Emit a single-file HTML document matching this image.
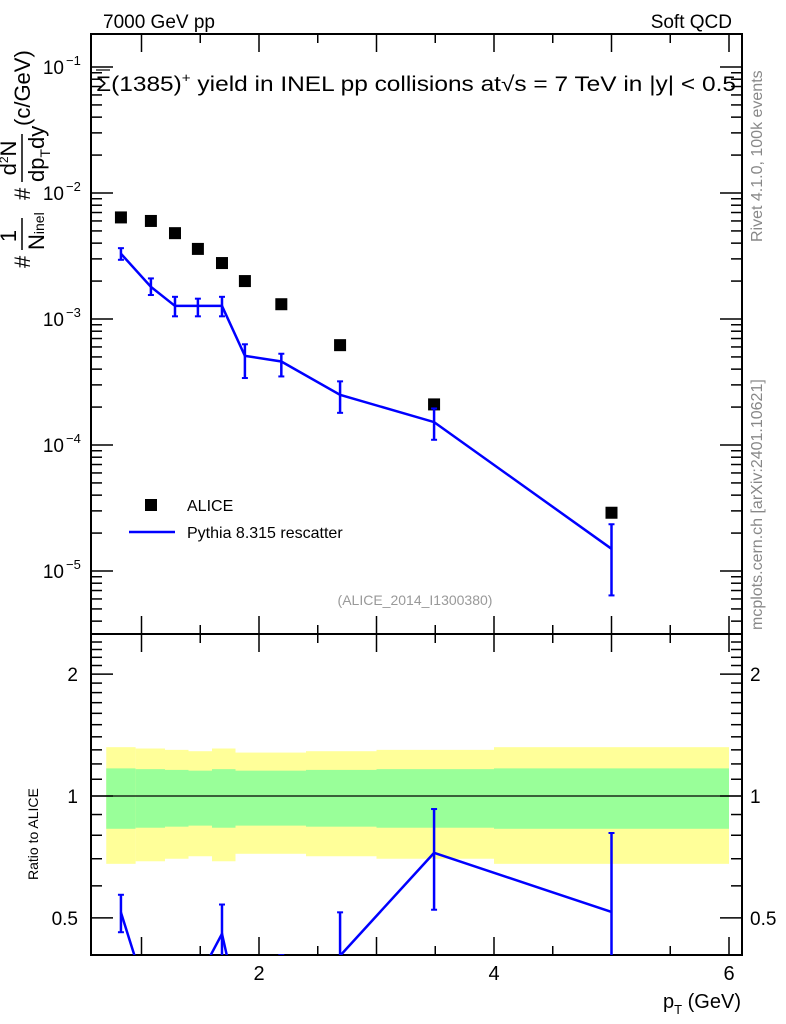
<!DOCTYPE html>
<html><head><meta charset="utf-8"><style>
html,body{margin:0;padding:0;background:#fff;overflow:hidden;width:786px;height:1024px;}
svg{display:block;font-family:"Liberation Sans",sans-serif;}
</style></head><body>
<svg id="c" width="786" height="1024" viewBox="0 0 786 1024">
<text x="103" y="28" font-size="19">7000 GeV pp</text>
<text x="732" y="28" font-size="19" text-anchor="end">Soft QCD</text>
<text transform="translate(762,242) rotate(-90)" font-size="16" fill="#888">Rivet 4.1.0,  100k events</text>
<text transform="translate(762,630) rotate(-90)" font-size="16" fill="#888">mcplots.cern.ch [arXiv:2401.10621]</text>
<g id="bands"></g>
<g id="main"></g>
<g id="ratio"></g>
<text x="96" y="91" font-size="21" textLength="640" lengthAdjust="spacingAndGlyphs">Σ(1385)<tspan font-size="13" dy="-9">+</tspan><tspan dy="9">  yield in INEL pp collisions at√s = 7 TeV in |y| &lt; 0.5</tspan></text>
<line x1="96" y1="70" x2="110" y2="70" stroke="#000" stroke-width="1.2"/>
<text x="415" y="605" font-size="14" fill="#999" text-anchor="middle">(ALICE_2014_I1300380)</text>
<rect x="145" y="499" width="12" height="12" fill="#000"/>
<text x="187" y="511" font-size="16">ALICE</text>
<line x1="129" y1="532" x2="175" y2="532" stroke="#00f" stroke-width="2.5"/>
<text x="187" y="538" font-size="16">Pythia 8.315 rescatter</text>
<g transform="translate(-24,268) rotate(-90)" font-size="22">
<text x="0" y="54">#</text>
<text x="32" y="40" text-anchor="middle">1</text>
<line x1="18" y1="46" x2="50" y2="46" stroke="#000" stroke-width="1.5"/>
<text x="18" y="68">N<tspan font-size="14">inel</tspan></text>
<text x="68" y="54">#</text>
<text x="110" y="40" text-anchor="middle">d<tspan font-size="12" dy="-8">2</tspan><tspan dy="8">N</tspan></text>
<line x1="86" y1="46" x2="134" y2="46" stroke="#000" stroke-width="1.5"/>
<text x="86" y="68">dp<tspan font-size="14" dy="6">T</tspan><tspan dy="-6">dy</tspan></text>
<text x="142" y="54">(c/GeV)</text>
</g>
<text transform="translate(38,880) rotate(-90)" font-size="14">Ratio to ALICE</text>
<text x="741" y="1008" font-size="20" text-anchor="end">p<tspan font-size="13" dy="6">T</tspan><tspan dy="-6"> (GeV)</tspan></text>
</svg>
<script>
const pt=[0.825,1.08,1.285,1.48,1.685,1.88,2.19,2.69,3.49,5.0];
const binLo=[0.7,0.95,1.2,1.4,1.6,1.8,2.0,2.4,3.0,4.0];
const binHi=[0.95,1.2,1.4,1.6,1.8,2.0,2.4,3.0,4.0,6.0];
const alice=[6.4e-3,6.0e-3,4.8e-3,3.6e-3,2.78e-3,2.0e-3,1.31e-3,6.2e-4,2.1e-4,2.9e-5];
const aliceStat=[0.17,0.165,0.16,0.155,0.165,0.155,0.155,0.16,0.165,0.17];
const aliceTot=[0.32,0.31,0.30,0.29,0.31,0.28,0.28,0.29,0.30,0.32];
const pythia=[3.3e-3,1.8e-3,1.27e-3,1.27e-3,1.27e-3,5.1e-4,4.6e-4,2.5e-4,1.52e-4,1.5e-5];
const pyLo=[2.95e-3,1.55e-3,1.05e-3,1.05e-3,1.05e-3,3.4e-4,3.5e-4,1.8e-4,1.1e-4,6.4e-6];
const pyHi=[3.65e-3,2.1e-3,1.5e-3,1.45e-3,1.5e-3,6.3e-4,5.3e-4,3.2e-4,1.95e-4,2.35e-5];
const mainYTicks=[-1,-2,-3,-4,-5];
const ratioYTicks=[2,1,0.5];
const xTicks=[2,4,6];
const NS='http://www.w3.org/2000/svg';
const L=91,R=742,T=34,MB=634,RB=955;
const X=v=>259+(v-2)*117.5;
const Y=v=>67+(-1-Math.log10(v))*126;
const YR=v=>796-Math.log10(v)*405;
function mk(p,t,a){const e=document.createElementNS(NS,t);for(const k in a)e.setAttribute(k,a[k]);p.appendChild(e);return e;}
const main=document.getElementById('main'),ratio=document.getElementById('ratio'),bands=document.getElementById('bands');
for(let i=0;i<pt.length;i++){
 const x1=X(binLo[i]),x2=X(binHi[i]);
 const y=mk(bands,'rect',{x:x1,y:YR(1+aliceTot[i]),width:x2-x1,height:YR(1-aliceTot[i])-YR(1+aliceTot[i]),fill:'#ffff99'});
 
 
 const g=mk(bands,'rect',{x:x1,y:YR(1+aliceStat[i]),width:x2-x1,height:YR(1-aliceStat[i])-YR(1+aliceStat[i]),fill:'#99ff99'});
 
 
}
for(const [t,b] of [[T,MB],[MB,RB]]){
 const f=mk(main,'rect',{x:L,y:t,width:R-L,height:b-t,fill:'none',stroke:'#000','stroke-width':2});
 
 
}
for(let v=1;v<=6;v+=0.5){const x=X(v);if(x<L||x>R)continue;const len=(v%1===0)?18:9;
 for(const [t,b] of [[T,MB],[MB,RB]]){mk(main,'line',{x1:x,y1:b,x2:x,y2:b-len,stroke:'#000','stroke-width':1.5});mk(main,'line',{x1:x,y1:t,x2:x,y2:t+len,stroke:'#000','stroke-width':1.5});}}
xTicks.forEach(v=>{const t=mk(main,'text',{x:X(v),y:980,'font-size':20,'text-anchor':'middle'});t.textContent=v;
 
 });
for(let d=-6;d<=-1;d++)for(let m=1;m<10;m++){const v=m*Math.pow(10,d);const y=Y(v);if(y<T||y>MB)continue;const len=m===1?22:11;
 mk(main,'line',{x1:L,y1:y,x2:L+len,y2:y,stroke:'#000','stroke-width':1.5});mk(main,'line',{x1:R,y1:y,x2:R-len,y2:y,stroke:'#000','stroke-width':1.5});}
mainYTicks.forEach(d=>{const t=mk(main,'text',{x:64,y:Y(Math.pow(10,d))+7,'font-size':19,'text-anchor':'end'});t.textContent='10';
 
 
 const s=mk(main,'text',{x:66,y:Y(Math.pow(10,d))-2,'font-size':13});s.textContent='−'+(-d);});
for(let v=0.4;v<=2.5;v+=0.1){const vv=Math.round(v*10)/10;const y=YR(vv);if(y<MB||y>RB)continue;const big=[0.5,1,2].includes(vv);const len=big?22:11;
 mk(ratio,'line',{x1:L,y1:y,x2:L+len,y2:y,stroke:'#000','stroke-width':1.5});mk(ratio,'line',{x1:R,y1:y,x2:R-len,y2:y,stroke:'#000','stroke-width':1.5});}
ratioYTicks.forEach(v=>{const a=mk(ratio,'text',{x:78,y:YR(v)+7,'font-size':19,'text-anchor':'end'});a.textContent=v;
 
 
 const b=mk(ratio,'text',{x:750,y:YR(v)+7,'font-size':19});b.textContent=v;
 
 });
mk(ratio,'line',{x1:L,y1:YR(1),x2:R,y2:YR(1),stroke:'#000','stroke-width':1.2});
alice.forEach((v,i)=>{const r=mk(main,'rect',{x:X(pt[i])-6,y:Y(v)-6,width:12,height:12,fill:'#000'});
 
 });
const pl=mk(main,'polyline',{points:pt.map((p,i)=>X(p)+','+Y(pythia[i])).join(' '),fill:'none',stroke:'#00f','stroke-width':2.5});


pythia.forEach((v,i)=>{const x=X(pt[i]);
 const e=mk(main,'line',{x1:x,y1:Y(pyLo[i]),x2:x,y2:Y(pyHi[i]),stroke:'#00f','stroke-width':2.5});
 
 
 mk(main,'line',{x1:x-3,y1:Y(pyLo[i]),x2:x+3,y2:Y(pyLo[i]),stroke:'#00f','stroke-width':2});
 mk(main,'line',{x1:x-3,y1:Y(pyHi[i]),x2:x+3,y2:Y(pyHi[i]),stroke:'#00f','stroke-width':2});});
const cp=mk(ratio,'clipPath',{id:'rc'});mk(cp,'rect',{x:L,y:MB,width:R-L,height:RB-MB});
const rg=mk(ratio,'g',{'clip-path':'url(#rc)'});
const rl=mk(rg,'polyline',{points:pt.map((p,i)=>X(p)+','+YR(pythia[i]/alice[i])).join(' '),fill:'none',stroke:'#00f','stroke-width':2.5});


pythia.forEach((v,i)=>{const x=X(pt[i]);const lo=YR(pyLo[i]/alice[i]),hi=YR(pyHi[i]/alice[i]);
 const e=mk(rg,'line',{x1:x,y1:lo,x2:x,y2:hi,stroke:'#00f','stroke-width':2.5});
 
 
 mk(rg,'line',{x1:x-3,y1:lo,x2:x+3,y2:lo,stroke:'#00f','stroke-width':2});
 mk(rg,'line',{x1:x-3,y1:hi,x2:x+3,y2:hi,stroke:'#00f','stroke-width':2});});
</script>
</body></html>
